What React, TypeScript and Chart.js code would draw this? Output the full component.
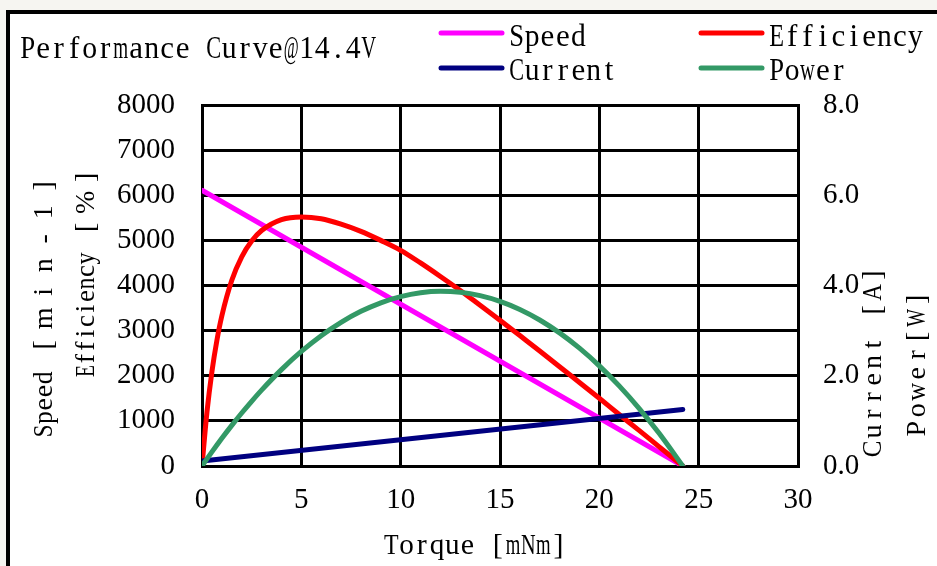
import React, { useEffect, useRef } from 'react';
import { Chart, registerables } from 'chart.js';

Chart.register(...registerables);

const W = 937;
const H = 566;

// ---- data ----
const torque = [0, 0.25, 0.5, 0.75, 1, 1.5, 2, 2.5, 3, 4, 5, 6, 7, 8, 9, 10, 11, 12, 13, 14, 15, 16, 17, 18, 19, 20, 21, 22, 23, 24.2];
const efficiency = [0, 1195, 2093, 2785, 3330, 4116, 4635, 4985, 5218, 5460, 5520, 5480, 5360, 5200, 5000, 4780, 4500, 4200, 3890, 3560, 3230, 2890, 2550, 2200, 1850, 1500, 1140, 790, 430, 0];
const power = [0, 0.158, 0.313, 0.465, 0.613, 0.9, 1.174, 1.434, 1.682, 2.136, 2.538, 2.887, 3.183, 3.427, 3.617, 3.754, 3.839, 3.871, 3.849, 3.775, 3.648, 3.469, 3.236, 2.95, 2.611, 2.22, 1.776, 1.279, 0.729, 0];
const speedTorque = [0, 24.2];
const speed = [6110, 0];
const currentTorque = [0, 24.2];
const current = [0.11, 1.25];

const chartTitle = 'Performance Curve@14.4V';
const seriesNames = ['Speed', 'Efficiency', 'Current', 'Power'];
const seriesColors = ['#FF00FF', '#FF0000', '#000080', '#339966'];
const xTitle = 'Torque [mNm]';
const leftTitles = ['Speed [min-1]', 'Efficiency [%]'];
const rightTitles = ['Current [A]', 'Power[W]'];

const SERIF = '"Liberation Serif", "Times New Roman", serif';

function pts(xs: number[], ys: number[]) {
  return xs.map((x, i) => ({ x, y: ys[i] }));
}

// draw text with fixed character cells (imitates a monospaced Mincho-style font)
function cellText(ctx: CanvasRenderingContext2D, text: string, x: number, y: number, unit: number, wideFrom: number, align: 'left' | 'center') {
  const chars = Array.from(text);
  const ws = chars.map((_, i) => (i >= wideFrom ? 2 : 1));
  const total = ws.reduce((a, b) => a + b, 0) * unit;
  let cur = align === 'center' ? x - total / 2 : x;
  ctx.textAlign = 'center';
  chars.forEach((ch, i) => {
    const w = ws[i] * unit;
    const cx = cur + w / 2;
    const mw = ctx.measureText(ch).width;
    const maxW = w * 0.96;
    if (mw > maxW) {
      ctx.save();
      ctx.translate(cx, y);
      ctx.scale(maxW / mw, 1);
      ctx.fillText(ch, 0, 0);
      ctx.restore();
    } else {
      ctx.fillText(ch, cx, y);
    }
    cur += w;
  });
}

const decorPlugin = {
  id: 'decor',
  beforeDraw(chart: any) {
    const ctx: CanvasRenderingContext2D = chart.ctx;
    ctx.save();
    ctx.fillStyle = '#f6f5f1';
    ctx.fillRect(0, 0, W, H);
    ctx.fillStyle = '#ffffff';
    ctx.fillRect(6, 10, W, H);
    ctx.fillStyle = '#000000';
    ctx.fillRect(6, 10, 4, H);
    ctx.fillRect(6, 10, W, 4);
    ctx.restore();
  },
  afterDraw(chart: any) {
    const ctx: CanvasRenderingContext2D = chart.ctx;
    ctx.save();
    ctx.fillStyle = '#000';
    ctx.textBaseline = 'alphabetic';

    // title
    ctx.font = `31px ${SERIF}`;
    cellText(ctx, chartTitle, 20, 58, 15.5, 99, 'left');

    // legend
    const legendPos = [
      [441, 33, 509, 46],
      [701, 33, 769, 46],
      [441, 68, 509, 80],
      [701, 68, 769, 80],
    ];
    seriesNames.forEach((name, i) => {
      const [lx, ly, tx, ty] = legendPos[i];
      ctx.strokeStyle = seriesColors[i];
      ctx.lineWidth = 5;
      ctx.lineCap = 'round';
      ctx.beginPath();
      ctx.moveTo(lx, ly);
      ctx.lineTo(lx + 61, ly);
      ctx.stroke();
      ctx.fillStyle = '#000';
      ctx.font = `31px ${SERIF}`;
      cellText(ctx, name, tx, ty, 15.4, 99, 'left');
    });

    // x axis title
    ctx.font = `30px ${SERIF}`;
    cellText(ctx, xTitle, 475, 554, 15.2, 99, 'center');

    // rotated axis titles
    const rot = (text: string, bx: number, cy: number, unit: number, wideFrom: number) => {
      ctx.save();
      ctx.translate(bx, cy);
      ctx.rotate(-Math.PI / 2);
      ctx.font = `28px ${SERIF}`;
      cellText(ctx, text, 0, 0, unit, wideFrom, 'center');
      ctx.restore();
    };
    rot(leftTitles[0], 52, 305, 13.25, 6);
    rot(leftTitles[1], 94, 271, 12.5, 11);
    rot(rightTitles[0], 881, 362, 17.4, 99);
    rot(rightTitles[1], 925, 364, 18.5, 99);
    ctx.restore();
  },
};

export default function App() {
  const ref = useRef<HTMLCanvasElement | null>(null);

  useEffect(() => {
    const canvas = ref.current;
    if (!canvas) return;
    Chart.defaults.font.family = SERIF;
    const tickFont = { family: SERIF, size: 29 };
    const common = {
      fill: false,
      pointRadius: 0,
      borderWidth: 5,
      borderCapStyle: 'round' as const,
      borderJoinStyle: 'round' as const,
    };
    const chart = new Chart(canvas, {
      type: 'line',
      data: {
        datasets: [
          { ...common, label: seriesNames[0], data: pts(speedTorque, speed), borderColor: seriesColors[0], yAxisID: 'y', order: 3 },
          { ...common, label: seriesNames[1], data: pts(torque, efficiency), borderColor: seriesColors[1], yAxisID: 'y', cubicInterpolationMode: 'monotone', order: 2 },
          { ...common, label: seriesNames[2], data: pts(currentTorque, current), borderColor: seriesColors[2], yAxisID: 'y2', order: 1 },
          { ...common, label: seriesNames[3], data: pts(torque, power), borderColor: seriesColors[3], yAxisID: 'y2', cubicInterpolationMode: 'monotone', order: 0 },
        ],
      },
      options: {
        animation: false,
        responsive: false,
        maintainAspectRatio: false,
        layout: { padding: { top: 105, left: 0, right: 0, bottom: 0 } },
        plugins: { legend: { display: false }, tooltip: { enabled: false }, title: { display: false } },
        scales: {
          x: {
            type: 'linear',
            min: 0,
            max: 30,
            ticks: { stepSize: 5, font: tickFont, color: '#000', padding: 17, maxRotation: 0 },
            grid: { color: '#000', lineWidth: 3, drawTicks: false },
            border: { color: '#000', width: 3 },
            afterFit: (s: any) => { s.height = 100; },
          },
          y: {
            position: 'left',
            min: 0,
            max: 8000,
            ticks: { stepSize: 1000, font: tickFont, color: '#000', padding: 27, callback: (v: any) => String(v) },
            grid: { color: '#000', lineWidth: 3, drawTicks: false },
            border: { color: '#000', width: 3 },
            afterFit: (s: any) => { s.width = 202; },
          },
          y2: {
            position: 'right',
            min: 0,
            max: 8,
            ticks: { stepSize: 2, font: tickFont, color: '#000', padding: 25, callback: (v: any) => Number(v).toFixed(1) },
            grid: { display: false, drawTicks: false },
            border: { color: '#000', width: 3 },
            afterFit: (s: any) => { s.width = 139; },
          },
        },
      } as any,
      plugins: [decorPlugin],
    });
    return () => chart.destroy();
  }, []);

  return (
    <div style={{ position: 'fixed', left: 0, top: 0, width: W, height: H, background: '#f6f5f1' }}>
      <canvas ref={ref} width={W} height={H} style={{ display: 'block', width: W, height: H }} />
    </div>
  );
}
